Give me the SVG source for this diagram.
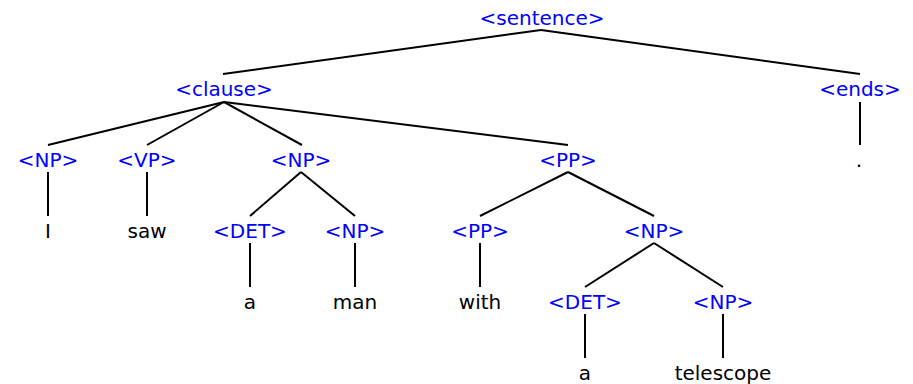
<svg xmlns="http://www.w3.org/2000/svg" width="913" height="384" viewBox="0 0 913 384">
<style>
text { font-family: "DejaVu Sans", sans-serif; font-size: 20px; text-anchor: middle; }
.nt { fill: #0000ff; }
.t { fill: #000000; }
#edges line { stroke: #000; stroke-width: 2; }
</style>
<rect width="913" height="384" fill="#fff"/>
<g id="edges">
<line x1="541" y1="30" x2="223" y2="74"/>
<line x1="541" y1="30" x2="860" y2="74"/>
<line x1="224" y1="102" x2="48" y2="145"/>
<line x1="224" y1="102" x2="147" y2="145"/>
<line x1="224" y1="102" x2="302" y2="145"/>
<line x1="224" y1="102" x2="568" y2="145"/>
<line x1="860" y1="102" x2="860" y2="145"/>
<line x1="48" y1="172" x2="48" y2="216"/>
<line x1="147" y1="172" x2="147" y2="216"/>
<line x1="301" y1="172" x2="250" y2="216"/>
<line x1="301" y1="172" x2="355" y2="216"/>
<line x1="568" y1="172" x2="480" y2="216"/>
<line x1="568" y1="172" x2="654" y2="216"/>
<line x1="250" y1="243" x2="250" y2="287"/>
<line x1="355" y1="243" x2="355" y2="287"/>
<line x1="480" y1="243" x2="480" y2="287"/>
<line x1="654" y1="243" x2="585" y2="287"/>
<line x1="654" y1="243" x2="723" y2="287"/>
<line x1="585" y1="314" x2="585" y2="358"/>
<line x1="723" y1="314" x2="723" y2="358"/>
</g>
<g id="n-sentence"><text class="nt" x="542" y="25">&lt;sentence&gt;</text></g>
<g id="n-clause"><text class="nt" x="224" y="96">&lt;clause&gt;</text></g>
<g id="n-ends"><text class="nt" x="860" y="96">&lt;ends&gt;</text></g>
<g id="n-np1"><text class="nt" x="48" y="167">&lt;NP&gt;</text></g>
<g id="n-vp"><text class="nt" x="147" y="167">&lt;VP&gt;</text></g>
<g id="n-np2"><text class="nt" x="301" y="167">&lt;NP&gt;</text></g>
<g id="n-pp1"><text class="nt" x="568" y="167">&lt;PP&gt;</text></g>
<g id="n-dot"><text class="t" x="859" y="167">.</text></g>
<g id="n-I"><text class="t" x="48" y="238">I</text></g>
<g id="n-saw"><text class="t" x="147" y="238">saw</text></g>
<g id="n-det1"><text class="nt" x="250" y="238">&lt;DET&gt;</text></g>
<g id="n-np3"><text class="nt" x="355" y="238">&lt;NP&gt;</text></g>
<g id="n-pp2"><text class="nt" x="480" y="238">&lt;PP&gt;</text></g>
<g id="n-np4"><text class="nt" x="654" y="238">&lt;NP&gt;</text></g>
<g id="n-a1"><text class="t" x="250" y="309">a</text></g>
<g id="n-man"><text class="t" x="355" y="309">man</text></g>
<g id="n-with"><text class="t" x="480" y="309">with</text></g>
<g id="n-det2"><text class="nt" x="585" y="309">&lt;DET&gt;</text></g>
<g id="n-np5"><text class="nt" x="723" y="309">&lt;NP&gt;</text></g>
<g id="n-a2"><text class="t" x="585" y="380">a</text></g>
<g id="n-telescope"><text class="t" x="723" y="380">telescope</text></g>
</svg>
